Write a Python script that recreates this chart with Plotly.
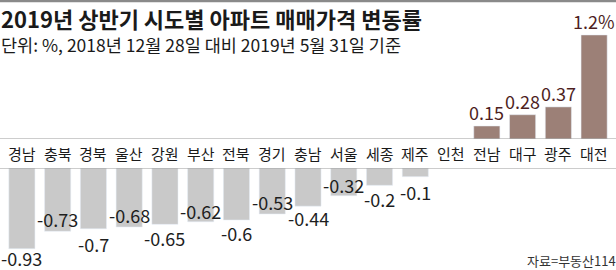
import plotly.graph_objects as go

# ---- data ----
regions = ["경남", "충북", "경북", "울산", "강원", "부산", "전북", "경기", "충남",
           "서울", "세종", "제주", "인천", "전남", "대구", "광주", "대전"]
changes = [-0.93, -0.73, -0.7, -0.68, -0.65, -0.62, -0.6, -0.53, -0.44,
           -0.32, -0.2, -0.1, 0.0, 0.15, 0.28, 0.37, 1.2]
title_text = "2019년 상반기 시도별 아파트 매매가격 변동률"
subtitle_text = "단위: %, 2018년 12월 28일 대비 2019년 5월 31일 기준"
source_text = "자료=부동산114"

# ---- style / layout ----
W, H = 616, 270
FONT = "Noto Sans CJK KR"
PX_PER_UNIT = 86.7
TOP_ZERO_PX, TOP_DOMAIN_TOP_PX = 139, 20
BOT_ZERO_PX = 168
POS_BAR = "#9c8077"
POS_TXT = "#4e1f1f"
NEG_BAR = "#c9c9c9"
NEG_TXT = "#1e1e1e"
LINE = "#9a9a9a"
# vertical shift (px) of negative value labels relative to bar end
neg_label_shift = [-9, 12, -15, 12, -14, 11, -13, 12, -12, 11, -14, -15, 0]

n = len(regions)
xs = list(range(n))
pos_vals = [v if v > 0 else None for v in changes]
neg_vals = [v if v < 0 else None for v in changes]

top_dom = [1 - TOP_ZERO_PX / H, 1 - TOP_DOMAIN_TOP_PX / H]
bot_dom = [0, 1 - BOT_ZERO_PX / H]
top_range = [0, (TOP_ZERO_PX - TOP_DOMAIN_TOP_PX) / PX_PER_UNIT]
bot_range = [-(H - BOT_ZERO_PX) / PX_PER_UNIT, 0]

fig = go.Figure()
fig.add_trace(go.Bar(x=xs, y=pos_vals, marker_color=POS_BAR, xaxis="x", yaxis="y",
                     hoverinfo="skip", showlegend=False))
fig.add_trace(go.Bar(x=xs, y=neg_vals, marker_color=NEG_BAR, xaxis="x2", yaxis="y2",
                     hoverinfo="skip", showlegend=False))

ann = []
vmax = max(changes)
for i, v in enumerate(changes):
    if v > 0:
        txt = f"{v:g}" + ("%" if v == vmax else "")
        ann.append(dict(x=i, y=v, xref="x", yref="y", text=txt, showarrow=False,
                        yanchor="bottom", yshift=0, borderpad=0,
                        font=dict(family=FONT, size=18, color=POS_TXT)))
    elif v < 0:
        ann.append(dict(x=i, y=v, xref="x2", yref="y2", text=f"{v:g}", showarrow=False,
                        yanchor="middle", yshift=neg_label_shift[i], borderpad=0,
                        font=dict(family=FONT, size=18, color=NEG_TXT)))
    ann.append(dict(x=i, y=1 - 153 / H, xref="x", yref="paper", text=regions[i],
                    showarrow=False, yanchor="middle",
                    font=dict(family=FONT, size=15, color="#1a1a1a")))

ann.append(dict(x=0, y=1 - 18 / H, xref="paper", yref="paper", xanchor="left",
                yanchor="middle", xshift=-1, text=f"<b>{title_text}</b>", showarrow=False,
                font=dict(family=FONT, size=22, color="#1a1a1a")))
ann.append(dict(x=0, y=1 - 45 / H, xref="paper", yref="paper", xanchor="left",
                yanchor="middle", xshift=-1, text=subtitle_text, showarrow=False,
                font=dict(family=FONT, size=17.5, color="#1a1a1a")))
ann.append(dict(x=1, y=1 - 260 / H, xref="paper", yref="paper", xanchor="right",
                yanchor="middle", xshift=1, text=source_text, showarrow=False, borderpad=0,
                font=dict(family=FONT, size=13, color="#333333")))

shapes = [
    dict(type="line", xref="paper", yref="y", x0=0, x1=1, y0=0, y1=0,
         line=dict(color=LINE, width=1)),
    dict(type="line", xref="paper", yref="y2", x0=0, x1=1, y0=0, y1=0,
         line=dict(color=LINE, width=1)),
    dict(type="line", xref="paper", yref="paper", x0=0, x1=1, y0=1 - 1 / H, y1=1 - 1 / H,
         line=dict(color="#8a8a8a", width=2.5)),
]

xdom = [4 / W, 612 / W]
axis_common = dict(range=[-0.5, n - 0.5], domain=xdom, showgrid=False, zeroline=False,
                   showticklabels=False, showline=False, fixedrange=True)
fig.update_layout(
    width=W, height=H, margin=dict(l=0, r=0, t=0, b=0),
    paper_bgcolor="white", plot_bgcolor="rgba(0,0,0,0)",
    bargap=0.27,
    xaxis=dict(**axis_common, anchor="y"),
    xaxis2=dict(**axis_common, anchor="y2", matches="x"),
    yaxis=dict(domain=top_dom, range=top_range, visible=False, fixedrange=True),
    yaxis2=dict(domain=bot_dom, range=bot_range, visible=False, fixedrange=True),
    annotations=ann, shapes=shapes,
)
fig.write_html("out.html")
